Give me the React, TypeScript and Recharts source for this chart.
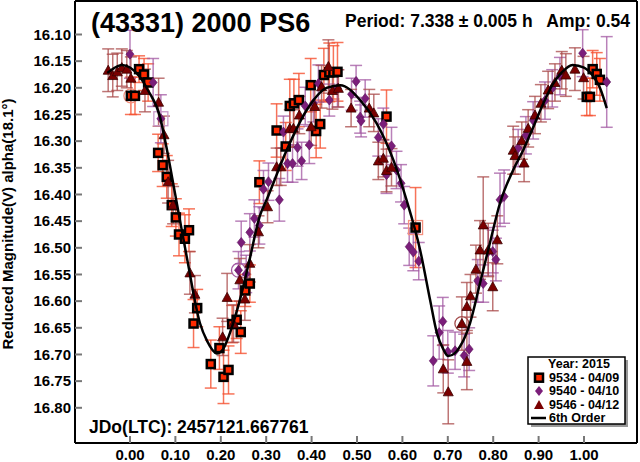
import React from 'react';
import { ScatterChart, Scatter, XAxis, YAxis, ErrorBar } from 'recharts';

// [phase, reduced magnitude, error]
const obs9534: number[][] = [
  [0.002, 16.215, 0.035], [0.011, 16.215, 0.035], [0.020, 16.165, 0.025], [0.031, 16.175, 0.03],
  [0.040, 16.19, 0.035], [0.062, 16.322, 0.035], [0.072, 16.345, 0.04], [0.081, 16.367, 0.04],
  [0.092, 16.42, 0.04], [0.101, 16.443, 0.035], [0.108, 16.475, 0.04], [0.121, 16.483, 0.045],
  [0.130, 16.467, 0.04], [0.140, 16.642, 0.045], [0.148, 16.613, 0.035], [0.178, 16.718, 0.045],
  [0.197, 16.688, 0.04], [0.206, 16.742, 0.05], [0.217, 16.729, 0.045], [0.225, 16.643, 0.035],
  [0.235, 16.635, 0.035], [0.244, 16.658, 0.04], [0.254, 16.58, 0.03], [0.264, 16.567, 0.035],
  [0.285, 16.377, 0.04], [0.323, 16.28, 0.05], [0.343, 16.31, 0.045], [0.352, 16.234, 0.05],
  [0.361, 16.229, 0.045], [0.372, 16.223, 0.05], [0.398, 16.195, 0.05], [0.410, 16.281, 0.05],
  [0.419, 16.268, 0.045], [0.427, 16.176, 0.05], [0.439, 16.171, 0.055], [0.448, 16.171, 0.05],
  [0.457, 16.17, 0.055], [0.565, 16.254, 0.05], [0.629, 16.462, 0.075], [1.006, 16.217, 0.035],
  [1.013, 16.217, 0.035], [1.019, 16.165, 0.035], [1.028, 16.174, 0.04], [1.035, 16.185, 0.04],
];

const obs9540: number[][] = [
  [0.0, 16.137, 0.045], [0.051, 16.19, 0.045], [0.068, 16.258, 0.045],
  [0.239, 16.542, 0.035], [0.245, 16.49, 0.04], [0.256, 16.549, 0.035], [0.264, 16.471, 0.035],
  [0.274, 16.445, 0.035], [0.285, 16.458, 0.035], [0.294, 16.39, 0.035], [0.305, 16.376, 0.035],
  [0.329, 16.41, 0.04], [0.338, 16.283, 0.03], [0.347, 16.342, 0.035], [0.358, 16.342, 0.035],
  [0.369, 16.312, 0.035], [0.378, 16.337, 0.035], [0.386, 16.234, 0.035], [0.395, 16.307, 0.035],
  [0.404, 16.229, 0.035], [0.415, 16.192, 0.035], [0.439, 16.223, 0.03], [0.457, 16.201, 0.035],
  [0.488, 16.212, 0.03], [0.498, 16.188, 0.03], [0.507, 16.255, 0.03], [0.509, 16.262, 0.03],
  [0.518, 16.22, 0.035], [0.547, 16.293, 0.035], [0.558, 16.268, 0.03], [0.565, 16.363, 0.035],
  [0.576, 16.309, 0.035], [0.587, 16.354, 0.035], [0.597, 16.379, 0.035], [0.604, 16.42, 0.035],
  [0.615, 16.498, 0.035], [0.624, 16.508, 0.035], [0.636, 16.525, 0.035], [0.668, 16.712, 0.047],
  [0.681, 16.659, 0.05], [0.689, 16.638, 0.045], [0.700, 16.695, 0.04], [0.716, 16.693, 0.035],
  [0.736, 16.702, 0.04], [0.747, 16.69, 0.04], [0.766, 16.562, 0.04], [0.778, 16.567, 0.035],
  [0.789, 16.507, 0.045], [0.799, 16.507, 0.04], [0.806, 16.522, 0.04], [0.815, 16.41, 0.05],
  [0.824, 16.404, 0.05], [0.855, 16.313, 0.035], [0.872, 16.289, 0.035], [0.888, 16.261, 0.035],
  [0.914, 16.224, 0.035], [0.930, 16.201, 0.035], [0.947, 16.178, 0.035], [0.997, 16.135, 0.044],
  [1.05, 16.189, 0.085],
];

const obs9546: number[][] = [
  [-0.048, 16.167, 0.04], [-0.038, 16.177, 0.04], [-0.028, 16.17, 0.035], [-0.018, 16.162, 0.035],
  [-0.007, 16.165, 0.035], [0.002, 16.182, 0.04], [0.033, 16.205, 0.04], [0.063, 16.227, 0.045],
  [0.075, 16.288, 0.035], [0.084, 16.376, 0.04], [0.095, 16.42, 0.035], [0.132, 16.547, 0.04],
  [0.143, 16.587, 0.035], [0.204, 16.667, 0.035], [0.214, 16.593, 0.045], [0.228, 16.642, 0.035],
  [0.242, 16.56, 0.04], [0.253, 16.596, 0.04], [0.264, 16.529, 0.035], [0.283, 16.47, 0.03],
  [0.303, 16.423, 0.03], [0.323, 16.348, 0.035], [0.332, 16.348, 0.035], [0.352, 16.276, 0.035],
  [0.36, 16.276, 0.035], [0.373, 16.251, 0.035], [0.399, 16.273, 0.035], [0.407, 16.235, 0.04],
  [0.422, 16.198, 0.04], [0.437, 16.16, 0.05], [0.446, 16.205, 0.035], [0.459, 16.201, 0.035],
  [0.487, 16.238, 0.035], [0.527, 16.238, 0.035], [0.537, 16.247, 0.035], [0.547, 16.337, 0.035],
  [0.558, 16.332, 0.035], [0.565, 16.355, 0.04], [0.576, 16.349, 0.035], [0.69, 16.727, 0.045],
  [0.701, 16.77, 0.06], [0.731, 16.642, 0.05], [0.742, 16.713, 0.053], [0.742, 16.61, 0.045],
  [0.75, 16.59, 0.04], [0.762, 16.54, 0.045], [0.771, 16.504, 0.055], [0.778, 16.457, 0.09],
  [0.789, 16.504, 0.05], [0.799, 16.573, 0.045], [0.809, 16.485, 0.045], [0.844, 16.317, 0.045],
  [0.848, 16.327, 0.035], [0.863, 16.299, 0.035], [0.868, 16.341, 0.035], [0.877, 16.276, 0.035],
  [0.892, 16.251, 0.035], [0.905, 16.229, 0.035], [0.921, 16.204, 0.035], [0.936, 16.19, 0.035],
  [0.951, 16.167, 0.035], [0.96, 16.176, 0.04], [0.98, 16.165, 0.04], [0.999, 16.181, 0.04],
];

// points that carry an extra ring in the reference
const ringCircles: number[][] = [[0.002, 16.215], [0.239, 16.542], [0.731, 16.642]];
const ringSquares: number[][] = [[0.068, 16.258], [0.629, 16.462]];

// 6th order Fourier fit
const fitCurve: number[][] = [
  [-0.05, 16.172], [-0.035, 16.163], [-0.018, 16.157], [0.0, 16.162], [0.02, 16.178],
  [0.04, 16.205], [0.066, 16.254], [0.08, 16.31], [0.099, 16.397], [0.125, 16.517],
  [0.154, 16.641], [0.17, 16.675], [0.191, 16.698], [0.205, 16.69], [0.22, 16.66],
  [0.246, 16.585], [0.264, 16.52], [0.286, 16.44], [0.301, 16.41], [0.345, 16.317],
  [0.389, 16.242], [0.433, 16.2], [0.463, 16.195], [0.507, 16.223], [0.543, 16.266],
  [0.58, 16.335], [0.609, 16.41], [0.639, 16.504], [0.661, 16.598], [0.676, 16.66],
  [0.69, 16.69], [0.701, 16.703], [0.715, 16.698], [0.727, 16.685], [0.749, 16.641],
  [0.771, 16.566], [0.793, 16.49], [0.815, 16.416], [0.844, 16.354], [0.866, 16.317],
  [0.89, 16.27], [0.91, 16.23], [0.93, 16.195], [0.95, 16.172], [0.975, 16.157],
  [1.0, 16.162], [1.02, 16.178], [1.035, 16.2], [1.05, 16.238],
];

const xTicks = [0, 0.1, 0.2, 0.3, 0.4, 0.5, 0.6, 0.7, 0.8, 0.9, 1.0];
const yTicks = [16.1, 16.15, 16.2, 16.25, 16.3, 16.35, 16.4, 16.45, 16.5, 16.55, 16.6, 16.65, 16.7, 16.75, 16.8];

const titleText = '(43331) 2000 PS6';
const periodText = 'Period: 7.338 \u00B1 0.005 h';
const ampText = 'Amp: 0.54';
const jdText = 'JDo(LTC): 2457121.667761';
const yLabel = 'Reduced Magnitude(V) alpha(18.1\u00B0)';
const legendTitle = 'Year: 2015';
const seriesNames = ['9534 - 04/09', '9540 - 04/10', '9546 - 04/12'];
const fitName = '6th Order';

const FONT = '"Liberation Sans", Arial, Helvetica, sans-serif';
const X_DOMAIN = [-0.1211, 1.1167];
const Y_DOMAIN = [16.0372, 16.866];
const RING_CIRCLE_COLORS = ['#F4907E', '#A35AA3', '#A34A4A'];
const RING_SQUARE_COLORS = ['#C898C8', '#F4907E'];

const toPts = (arr: number[][]) => arr.map(([x, y, e]) => ({ x, y, e }));
const toRing = (arr: number[][], colors: string[]) => arr.map(([x, y], i) => ({ x, y, c: colors[i] }));

const SquareShape = (p: any) => (
  <rect x={p.cx - 4} y={p.cy - 4} width={8} height={8} fill="#FF2A00" stroke="#000" strokeWidth={2.5} />
);
const DiamondShape = (p: any) => (
  <polygon
    points={`${p.cx},${p.cy - 5} ${p.cx + 4},${p.cy} ${p.cx},${p.cy + 5} ${p.cx - 4},${p.cy}`}
    fill="#7B1E7A"
    stroke="#5A125A"
    strokeWidth={0.6}
  />
);
const TriangleShape = (p: any) => (
  <polygon
    points={`${p.cx},${p.cy - 5} ${p.cx + 5},${p.cy + 4} ${p.cx - 5},${p.cy + 4}`}
    fill="#7A0000"
    stroke="#3A0000"
    strokeWidth={0.8}
  />
);
const RingCircleShape = (p: any) => (
  <circle cx={p.cx} cy={p.cy} r={7} fill="none" stroke={p.payload?.c || '#999'} strokeWidth={1.3} />
);
const RingSquareShape = (p: any) => (
  <rect x={p.cx - 7} y={p.cy - 7} width={14} height={14} fill="none" stroke={p.payload?.c || '#999'} strokeWidth={1.3} />
);
const NoShape = () => <g />;

const tickStyle = { fill: '#000', fontSize: 15, fontWeight: 'bold', fontFamily: FONT };

export default function App() {
  return (
    <div style={{ position: 'absolute', left: 0, top: 0, width: 640, height: 462, background: '#fff' }}>
      <ScatterChart width={640} height={462} margin={{ top: 0, right: 0, left: 0, bottom: 0 }}>
        <XAxis
          xAxisId="b"
          dataKey="x"
          type="number"
          domain={X_DOMAIN}
          allowDataOverflow
          ticks={xTicks}
          tickFormatter={(v: number) => v.toFixed(2)}
          height={19}
          tickSize={-7}
          tickMargin={13}
          axisLine={{ stroke: '#000', strokeWidth: 2 }}
          tickLine={{ stroke: '#777', strokeWidth: 2 }}
          tick={tickStyle}
          interval={0}
        />
        <XAxis
          xAxisId="t"
          orientation="top"
          type="number"
          domain={X_DOMAIN}
          allowDataOverflow
          ticks={xTicks}
          height={1}
          tickSize={-7}
          axisLine={{ stroke: '#000', strokeWidth: 2 }}
          tickLine={{ stroke: '#777', strokeWidth: 2 }}
          tick={false}
          interval={0}
        />
        <YAxis
          yAxisId="l"
          dataKey="y"
          type="number"
          domain={Y_DOMAIN}
          allowDataOverflow
          reversed
          ticks={yTicks}
          tickFormatter={(v: number) => v.toFixed(2)}
          width={75}
          tickSize={-7}
          tickMargin={11}
          axisLine={{ stroke: '#000', strokeWidth: 2 }}
          tickLine={{ stroke: '#777', strokeWidth: 2 }}
          tick={tickStyle}
          interval={0}
        />
        <YAxis
          yAxisId="r"
          orientation="right"
          type="number"
          domain={Y_DOMAIN}
          allowDataOverflow
          reversed
          ticks={yTicks}
          width={3}
          tickSize={-7}
          axisLine={{ stroke: '#000', strokeWidth: 2 }}
          tickLine={{ stroke: '#777', strokeWidth: 2 }}
          tick={false}
          interval={0}
        />
        <Scatter xAxisId="b" yAxisId="l" data={toRing(ringCircles, RING_CIRCLE_COLORS)} shape={RingCircleShape} isAnimationActive={false} />
        <Scatter xAxisId="b" yAxisId="l" data={toRing(ringSquares, RING_SQUARE_COLORS)} shape={RingSquareShape} isAnimationActive={false} />
        <Scatter xAxisId="b" yAxisId="l" data={toPts(obs9534)} shape={SquareShape} isAnimationActive={false}>
          <ErrorBar dataKey="e" direction="y" width={6} stroke="#F5502F" strokeOpacity={0.8} strokeWidth={1.5} isAnimationActive={false} />
        </Scatter>
        <Scatter xAxisId="b" yAxisId="l" data={toPts(obs9540)} shape={DiamondShape} isAnimationActive={false}>
          <ErrorBar dataKey="e" direction="y" width={6} stroke="#A257A2" strokeOpacity={0.75} strokeWidth={1.5} isAnimationActive={false} />
        </Scatter>
        <Scatter xAxisId="b" yAxisId="l" data={toPts(obs9546)} shape={TriangleShape} isAnimationActive={false}>
          <ErrorBar dataKey="e" direction="y" width={6} stroke="#A84848" strokeOpacity={0.75} strokeWidth={1.5} isAnimationActive={false} />
        </Scatter>
        <Scatter
          xAxisId="b"
          yAxisId="l"
          data={toPts(fitCurve)}
          shape={NoShape}
          line={{ stroke: '#000', strokeWidth: 2.5 }}
          lineType="joint"
          lineJointType="monotoneX"
          fill="none"
          isAnimationActive={false}
        />
      </ScatterChart>
      <svg
        width={640}
        height={462}
        style={{ position: 'absolute', left: 0, top: 0, pointerEvents: 'none' }}
        fontFamily={FONT}
        fontWeight="bold"
      >
        <text x={91} y={32} fontSize={27} fill="#000">{titleText}</text>
        <text x={345} y={27} fontSize={17.5} fill="#000">{periodText}</text>
        <text x={630} y={27} fontSize={17.5} fill="#000" textAnchor="end">{ampText}</text>
        <text x={89} y={433} fontSize={17.5} fill="#000">{jdText}</text>
        <text x={13} y={224} fontSize={15} fill="#000" textAnchor="middle" transform="rotate(-90 13 224)">{yLabel}</text>
        <rect x={531} y={360} width={97} height={67} fill="#999" />
        <rect x={528} y={357} width={97} height={67} fill="#fff" stroke="#000" strokeWidth={1.5} />
        <text x={579} y={367.5} fontSize={12.5} textAnchor="middle">{legendTitle}</text>
        <rect x={535} y={373.7} width={8} height={8} fill="#FF2A00" stroke="#000" strokeWidth={2.5} />
        <text x={549} y={382} fontSize={12.5}>{seriesNames[0]}</text>
        <polygon points="539,386 543,391 539,396 535,391" fill="#7B1E7A" />
        <text x={549} y={395.3} fontSize={12.5}>{seriesNames[1]}</text>
        <polygon points="539,400 544,409 534,409" fill="#7A0000" />
        <text x={549} y={409} fontSize={12.5}>{seriesNames[2]}</text>
        <line x1={531} y1={418} x2={546} y2={418} stroke="#000" strokeWidth={2.5} />
        <text x={549} y={422.3} fontSize={12.5}>{fitName}</text>
      </svg>
    </div>
  );
}
